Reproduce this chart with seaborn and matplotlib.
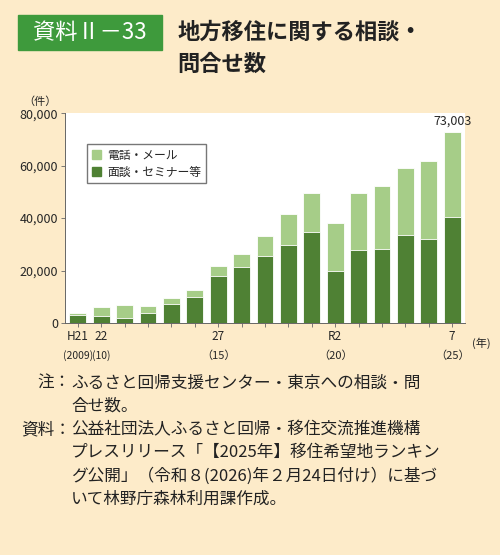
import numpy as np
import pandas as pd
import seaborn as sns
import matplotlib.pyplot as plt
from matplotlib.patches import Patch

years = list(range(2009, 2026))
meeting = [2900, 2800, 2000, 4000, 7200, 10000, 17800, 21400, 25400, 29800,
           34700, 19800, 28000, 28400, 33700, 32100, 40600]
total = [3800, 6000, 7000, 6500, 9700, 12400, 21600, 26400, 33200, 41500,
         49500, 38300, 49500, 52300, 59300, 61700, 73003]
tick_top = ["H21", "22", "", "", "", "", "27", "", "", "", "", "R2", "", "", "", "", "7"]
tick_bot = ["(2009)", "(10)", "", "", "", "", "（15）", "", "", "", "", "（20）", "", "", "", "", "（25）"]

sns.set_theme(style="white")
plt.rcParams['font.family'] = ['Noto Sans CJK JP', 'DejaVu Sans']

BG = "#fdebc9"
LIGHT = "#a6cd88"
DARK = "#4f8134"

df = pd.DataFrame({"year": [str(y) for y in years], "total": total, "meeting": meeting})

fig = plt.figure(figsize=(5, 5.55), dpi=100, facecolor=BG)
ax = fig.add_axes([0.13, 0.418, 0.80, 0.378])
ax.set_facecolor("white")
sns.barplot(data=df, x="year", y="total", color=LIGHT, width=0.72, saturation=1, ax=ax,
            edgecolor="white", linewidth=0.6)
sns.barplot(data=df, x="year", y="meeting", color=DARK, width=0.72, saturation=1, ax=ax,
            edgecolor="white", linewidth=0.6)
ax.set_ylim(0, 80000)
ax.set_xlim(-0.55, len(years) - 0.45)
ax.set_yticks(range(0, 80001, 20000))
ax.set_yticklabels([f"{v:,}" for v in range(0, 80001, 20000)], fontsize=9)
ax.set_xticks(range(len(years)))
ax.set_xticklabels([])
for i, (a, b) in enumerate(zip(tick_top, tick_bot)):
    if a:
        ax.text(i, -2500, a, ha="center", va="top", fontsize=8.5)
        ax.text(i, -10500, b, ha="center", va="top", fontsize=7.5 if i < 2 else 8)
ax.tick_params(axis="both", length=3, width=0.6, color="#666666", bottom=True, left=True, pad=2)
ax.set_xlabel("")
ax.set_ylabel("")
for s in ["top", "right"]:
    ax.spines[s].set_visible(False)
for s in ["left", "bottom"]:
    ax.spines[s].set_color("#666666")
    ax.spines[s].set_linewidth(0.7)
ax.text(len(years) - 1, total[-1] + 1500, f"{total[-1]:,}", ha="center", va="bottom", fontsize=9)
ax.text(len(years) - 0.15, -5500, "(年)", ha="left", va="top", fontsize=8)
ax.text(-0.02, 1.03, "（件）", transform=ax.transAxes, ha="right", va="bottom", fontsize=8)

ax.legend(handles=[Patch(color=LIGHT, label="電話・メール"), Patch(color=DARK, label="面談・セミナー等")],
          loc="upper left", bbox_to_anchor=(0.04, 0.88), fontsize=8.5, frameon=True,
          fancybox=False, edgecolor="#555555", handlelength=0.8, handleheight=0.8,
          borderpad=0.4, labelspacing=0.3, handletextpad=0.5)

# header
fig.patches.append(plt.Rectangle((0.035, 0.91), 0.29, 0.063, transform=fig.transFigure,
                                 color="#3e9a3c", zorder=0))
fig.text(0.18, 0.942, "資料Ⅱ－33", color="white", fontsize=16, ha="center", va="center")
fig.text(0.355, 0.942, "地方移住に関する相談・", color="#222222", fontsize=16,
         fontweight="bold", ha="left", va="center")
fig.text(0.355, 0.885, "問合せ数", color="#222222", fontsize=16, fontweight="bold",
         ha="left", va="center")

notes = [
    (0.31, "注：", "ふるさと回帰支援センター・東京への相談・問"),
    (0.268, "", "合せ数。"),
    (0.225, "資料：", "公益社団法人ふるさと回帰・移住交流推進機構"),
    (0.184, "", "プレスリリース「【2025年】移住希望地ランキン"),
    (0.142, "", "グ公開」（令和８(2026)年２月24日付け）に基づ"),
    (0.101, "", "いて林野庁森林利用課作成。"),
]
for y, head, body in notes:
    if head:
        fig.text(0.142, y, head, fontsize=12, ha="right", va="center", color="#222222")
    fig.text(0.142, y, body, fontsize=12, ha="left", va="center", color="#222222")

fig.savefig("out.png", dpi=100, facecolor=BG)
